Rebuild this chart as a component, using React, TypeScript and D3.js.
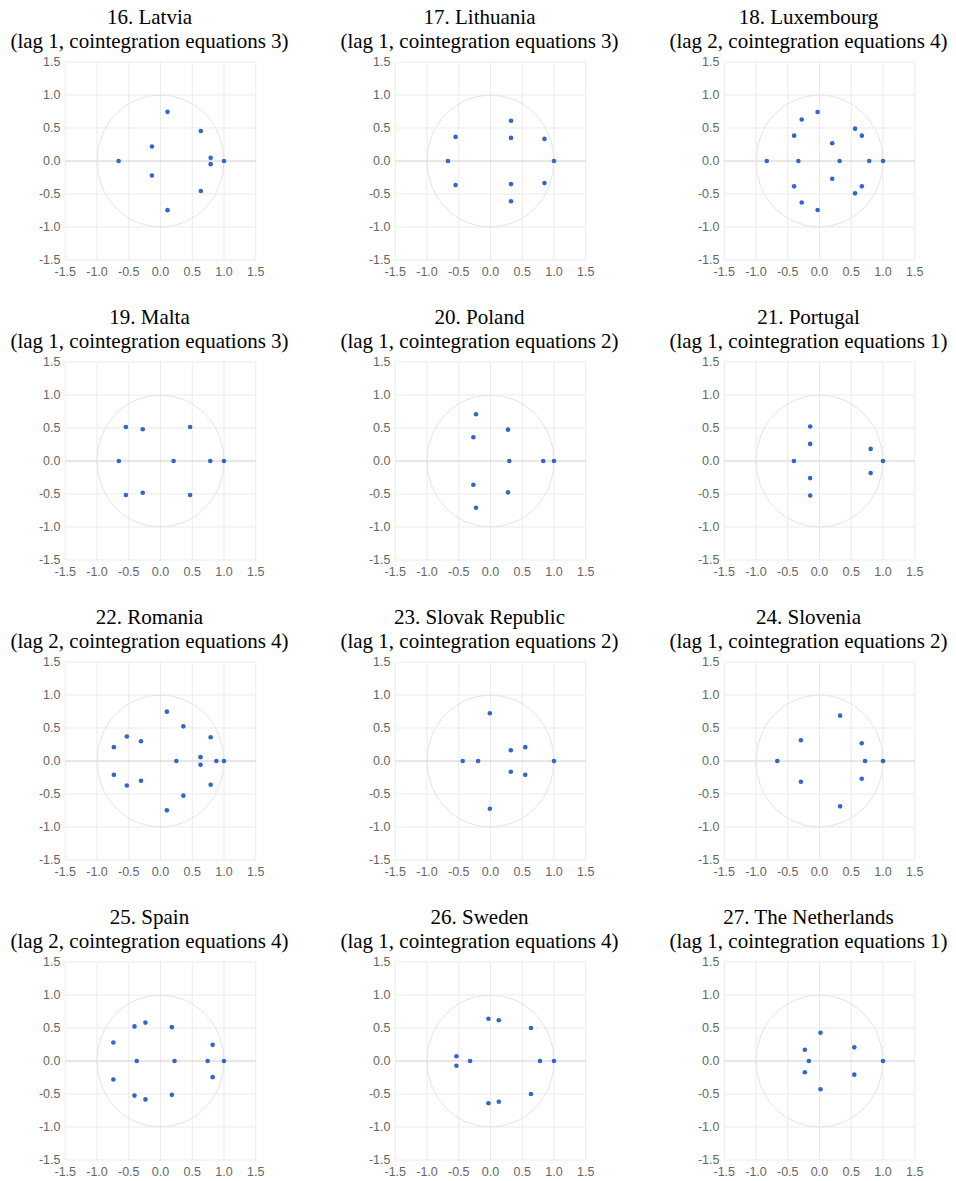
import React from "react";
import * as d3 from "d3";

// ---- Data: eigenvalue roots (real, imaginary) per country ----
const titles = [
  "16. Latvia", "17. Lithuania", "18. Luxembourg",
  "19. Malta", "20. Poland", "21. Portugal",
  "22. Romania", "23. Slovak Republic", "24. Slovenia",
  "25. Spain", "26. Sweden", "27. The Netherlands",
];
const subtitles = [
  "(lag 1, cointegration equations 3)", "(lag 1, cointegration equations 3)", "(lag 2, cointegration equations 4)",
  "(lag 1, cointegration equations 3)", "(lag 1, cointegration equations 2)", "(lag 1, cointegration equations 1)",
  "(lag 2, cointegration equations 4)", "(lag 1, cointegration equations 2)", "(lag 1, cointegration equations 2)",
  "(lag 2, cointegration equations 4)", "(lag 1, cointegration equations 4)", "(lag 1, cointegration equations 1)",
];

const latvia: [number, number][] = [
  [-0.66, 0], [0.11, 0.745], [0.11, -0.745], [-0.135, 0.22], [-0.135, -0.22],
  [0.635, 0.455], [0.635, -0.455], [0.79, 0.048], [0.79, -0.048], [1.0, 0],
];
const lithuania: [number, number][] = [
  [-0.67, 0], [-0.55, 0.365], [-0.55, -0.365], [0.323, 0.61], [0.323, 0.35],
  [0.323, -0.35], [0.323, -0.61], [0.85, 0.335], [0.85, -0.335], [1.0, 0],
];
const luxembourg: [number, number][] = [
  [-0.83, 0], [-0.333, 0], [0.317, 0], [0.783, 0], [1.0, 0],
  [-0.03, 0.742], [-0.03, -0.742], [-0.28, 0.628], [-0.28, -0.628],
  [-0.4, 0.384], [-0.4, -0.384], [0.2, 0.268], [0.2, -0.268],
  [0.56, 0.49], [0.56, -0.49], [0.667, 0.384], [0.667, -0.384],
];
const malta: [number, number][] = [
  [-0.656, 0], [0.206, 0], [0.783, 0], [1.0, 0],
  [-0.545, 0.515], [-0.545, -0.515], [-0.28, 0.48], [-0.28, -0.48],
  [0.466, 0.515], [0.466, -0.515],
];
const poland: [number, number][] = [
  [-0.228, 0.708], [-0.228, -0.708], [-0.27, 0.359], [-0.27, -0.359],
  [0.275, 0.475], [0.275, -0.475], [0.296, 0], [0.83, 0], [1.0, 0],
];
const portugal: [number, number][] = [
  [-0.403, 0], [-0.147, 0.522], [-0.147, 0.259], [-0.147, -0.259], [-0.147, -0.522],
  [0.806, 0.183], [0.806, -0.183], [1.0, 0],
];
const romania: [number, number][] = [
  [0.1, 0.748], [0.1, -0.748], [0.36, 0.525], [0.36, -0.525],
  [0.79, 0.36], [0.79, -0.36], [0.63, 0.058], [0.63, -0.058],
  [0.88, 0], [1.0, 0], [0.25, 0],
  [-0.53, 0.372], [-0.53, -0.372], [-0.734, 0.21], [-0.734, -0.21],
  [-0.307, 0.3], [-0.307, -0.3],
];
const slovakRepublic: [number, number][] = [
  [-0.01, 0.723], [-0.01, -0.723], [-0.437, 0], [-0.195, 0],
  [0.32, 0.163], [0.32, -0.163], [0.547, 0.21], [0.547, -0.21], [1.0, 0],
];
const slovenia: [number, number][] = [
  [-0.665, 0], [-0.293, 0.315], [-0.293, -0.315], [0.325, 0.687], [0.325, -0.687],
  [0.665, 0.27], [0.665, -0.27], [0.717, 0], [1.0, 0],
];
const spain: [number, number][] = [
  [-0.742, 0.281], [-0.742, -0.281], [-0.41, 0.524], [-0.41, -0.524],
  [-0.237, 0.582], [-0.237, -0.582], [-0.374, 0], [0.179, 0.513], [0.179, -0.513],
  [0.221, 0], [0.742, 0], [0.821, 0.245], [0.821, -0.245], [1.0, 0],
];
const sweden: [number, number][] = [
  [-0.032, 0.64], [-0.032, -0.64], [0.13, 0.617], [0.13, -0.617],
  [0.637, 0.5], [0.637, -0.5], [0.779, 0], [1.0, 0],
  [-0.537, 0.071], [-0.537, -0.071], [-0.321, 0],
];
const netherlands: [number, number][] = [
  [0.016, 0.429], [0.016, -0.429], [-0.231, 0.17], [-0.231, -0.17], [-0.167, 0],
  [0.548, 0.207], [0.548, -0.207], [1.0, 0],
];

const seriesList = [
  latvia, lithuania, luxembourg, malta, poland, portugal,
  romania, slovakRepublic, slovenia, spain, sweden, netherlands,
];

const tickValues = [-1.5, -1.0, -0.5, 0.0, 0.5, 1.0, 1.5];

// ---- Layout ----
const W = 956;
const H = 1181;
const COL_ZERO_X = [160.5, 490.5, 819.5];
const ROW_ZERO_Y = [161, 461, 761, 1061];
const HALF_W = 95.25;
const HALF_H = 99;

const fmt = d3
  .formatLocale({ decimal: ".", thousands: ",", grouping: [3], currency: ["", ""], minus: "-" })
  .format(".1f");

function Panel({ idx }: { idx: number }) {
  const cx = COL_ZERO_X[idx % 3];
  const cy = ROW_ZERO_Y[Math.floor(idx / 3)];
  const x = d3.scaleLinear().domain([-1.5, 1.5]).range([cx - HALF_W, cx + HALF_W]);
  const y = d3.scaleLinear().domain([-1.5, 1.5]).range([cy + HALF_H, cy - HALF_H]);
  const pts = seriesList[idx];
  const [x0, x1] = x.range();
  const [y0, y1] = y.range();
  const tickFont = "'Liberation Sans', Arial, sans-serif";
  return (
    <g>
      <text x={cx - 11} y={cy - 137} textAnchor="middle" fontFamily="'Liberation Serif', 'Times New Roman', serif" fontSize={21} fill="#000">
        {titles[idx]}
      </text>
      <text x={cx - 11} y={cy - 113} textAnchor="middle" fontFamily="'Liberation Serif', 'Times New Roman', serif" fontSize={21} fill="#000">
        {subtitles[idx]}
      </text>
      {tickValues.map((t) => (
        <line key={"v" + t} x1={x(t)} x2={x(t)} y1={y1} y2={y0} stroke="#ebebeb" strokeWidth={1} />
      ))}
      {tickValues.map((t) => (
        <line key={"h" + t} x1={x0} x2={x1} y1={y(t)} y2={y(t)} stroke={t === 0 ? "#cfcfcf" : "#ebebeb"} strokeWidth={1} />
      ))}
      <ellipse cx={x(0)} cy={y(0)} rx={x(1) - x(0)} ry={y(0) - y(1)} fill="none" stroke="#e4e4e4" strokeWidth={1} />
      {tickValues.map((t) => (
        <text key={"yl" + t} x={cx - 100} y={y(t)} dy="0.35em" textAnchor="end" fontFamily={tickFont} fontSize={12.5} fill="#666">
          {fmt(t)}
        </text>
      ))}
      {tickValues.map((t) => (
        <text key={"xl" + t} x={x(t)} y={cy + 115} textAnchor="middle" fontFamily={tickFont} fontSize={12.5} fill="#666">
          {fmt(t)}
        </text>
      ))}
      {pts.map((p, i) => (
        <circle key={i} cx={x(p[0])} cy={y(p[1])} r={2.3} fill="#3366cc" />
      ))}
    </g>
  );
}

export default function App() {
  return (
    <svg width={W} height={H} viewBox={`0 0 ${W} ${H}`} style={{ position: "absolute", left: 0, top: 0, background: "#fff" }}>
      <rect x={0} y={0} width={W} height={H} fill="#fff" />
      {titles.map((_, i) => (
        <Panel key={i} idx={i} />
      ))}
    </svg>
  );
}
